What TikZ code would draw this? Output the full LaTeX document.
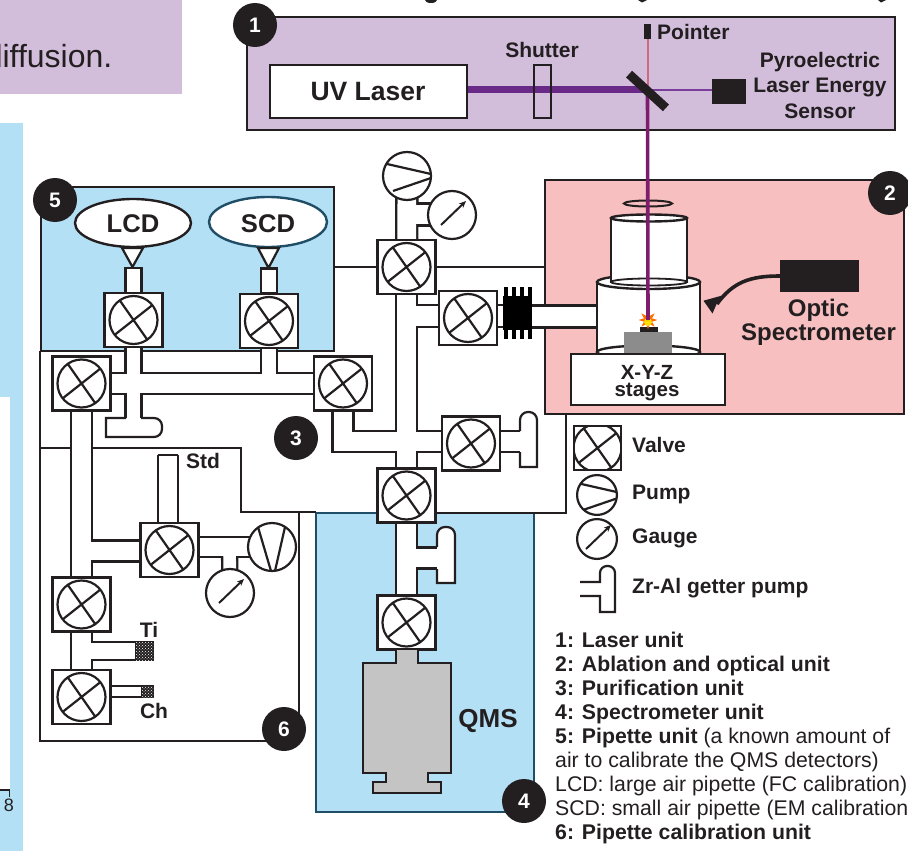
\documentclass[tikz,border=0pt]{standalone}
\usepackage{fontspec}
\setmainfont{Liberation Sans}
\usetikzlibrary{arrows.meta,patterns,shapes.geometric}

\definecolor{inkc}{HTML}{231F20}
\definecolor{laserbox}{HTML}{D2BEDB}
\definecolor{ablationbox}{HTML}{F7BFC0}
\definecolor{skybox}{HTML}{B3E0F5}
\definecolor{tealc}{HTML}{1F4E66}
\definecolor{uvbeam}{HTML}{682A86}
\definecolor{downbeam}{HTML}{7E1C6E}
\definecolor{pointerbeam}{HTML}{D0687F}
\definecolor{sensorbeam}{HTML}{7A3D9A}

\pgfdeclarelayer{boxes}
\pgfdeclarelayer{pipes}
\pgfsetlayers{boxes,pipes,main}

\tikzset{
  boxline/.style={draw=inkc, line width=2.3pt},
  lab/.style={font=\bfseries\fontsize{#1}{#1}\selectfont, text=inkc, inner sep=0pt, anchor=base},
  lab/.default=21,
  keytext/.style={font=\fontsize{21.25}{24}\selectfont, text=inkc, inner sep=0pt, anchor=base west},
  badge/.style={circle, fill=inkc, text=white, minimum size=44pt, inner sep=0pt, font=\bfseries\fontsize{21}{21}\selectfont},
  valvebox/.style={draw=inkc, line width=2.2pt, fill=white, minimum width=#1*58pt, minimum height=#1*54pt, inner sep=0pt,
    path picture={\draw[inkc, line width=2.2pt, shift={(path picture bounding box.center)}, scale=#1]
      (0,0) circle (24pt) (-14,-20) -- (14,20) (-19,15) -- (19,-15);}},
  valvebox/.default=1,
  pumpsym/.style={circle, draw=inkc, line width=2.2pt, fill=white, minimum size=#1*48pt, inner sep=0pt,
    path picture={\draw[inkc, line width=2.2pt, shift={(path picture bounding box.center)}, scale=#1]
      (-20,-12) -- (24,-2) (-14,15) -- (24,2);}},
  pumpsym/.default=1,
  pumpdown/.style={circle, draw=inkc, line width=2.2pt, fill=white, minimum size=48pt, inner sep=0pt,
    path picture={\draw[inkc, line width=2.2pt, shift={(path picture bounding box.center)}]
      (-14,-20) -- (-1,24) (13,-20) -- (3,24);}},
  gaugesym/.style={circle, draw=inkc, line width=2.2pt, fill=white, minimum size=#1*48pt, inner sep=0pt,
    path picture={\draw[inkc, line width=2pt, -{Stealth[length=7pt,width=6pt]}, shift={(path picture bounding box.center)}, scale=#1]
      (-11,10) -- (14,-14);}},
  gaugesym/.default=1,
  pipe/.style={draw=\pipecol, line width=(#1+\pipeadd)*1pt, line cap=butt, line join=miter},
  getterline/.style={draw=inkc, line width=2.2pt, fill=white},
  chamberline/.style={draw=inkc, line width=2.4pt, fill=white},
  trapsym/.style={draw=inkc, line width=1.5pt, fill=inkc, inner sep=0pt,
    postaction={pattern=crosshatch dots, pattern color=white}},
}

\begin{document}
\begin{tikzpicture}[x=1pt,y=-1pt]
\useasboundingbox (0,0) rectangle (908,851);

\begin{pgfonlayer}{boxes}
% neighbouring page
\fill[laserbox] (0,0) rectangle (182,94);
\fill[skybox] (0,123) rectangle (23,851);
\fill[white] (0,397) rectangle (10,790);
% unit boxes
\draw[boxline, fill=laserbox] (247,17) rectangle (895,130);
\draw[boxline, fill=ablationbox] (545,180) rectangle (904,414);
\draw[boxline, fill=skybox] (41,187) rectangle (334,351);
\draw[boxline, draw=tealc, fill=skybox] (316,513) rectangle (534,812);
\draw[boxline] (40,351) -- (40,741) -- (299,741) -- (299,512);
\draw[boxline] (40,448) -- (241,448) -- (241,512) -- (316,512);
\draw[boxline] (436,513) -- (566,513) -- (566,414);
\draw[boxline] (334,267) -- (545,267);
\draw[line width=1.8pt, inkc] (0,790) -- (9.5,790) -- (9.5,797);
\end{pgfonlayer}

\node[font=\fontsize{32}{32}\selectfont, text=inkc, inner sep=0pt, anchor=base east] (pagetext) at (112.5,67) {diffusion.};
\node[font=\fontsize{18}{18}\selectfont, text=inkc, inner sep=0pt] (pagenum) at (9,805) {8};
% cut heading
\fill[inkc] (431,0) ellipse (6pt and 3pt);
\fill[inkc] (638,0) -- (647,0) -- (642,2.5) -- cycle;
\fill[inkc] (878,0) -- (886,0) -- (881,2.5) -- cycle;

% laser unit
\node[draw=inkc, line width=2.4pt, fill=white, minimum width=197pt, minimum height=53pt, inner sep=0pt] (laser) at (368.5,91.5) {};
\node[lab=26.5] (lasertext) at (368,100) {UV Laser};
\coordinate (mirrorc) at (647.5,90);
\node[fill=inkc, minimum width=7pt, minimum height=15pt, inner sep=0pt] (pointer) at (647.5,31.5) {};
\node[fill=inkc, minimum width=34pt, minimum height=25pt, inner sep=0pt] (sensor) at (729,91.5) {};
\node[lab] (shuttertext) at (542,58) {Shutter};
\node[lab, anchor=base west] (pointertext) at (657,40) {Pointer};
\node[lab] (sensortext) at (820,67) {Pyroelectric};
\node[lab] (sensortextb) at (820,92.5) {Laser Energy};
\node[lab] (sensortextc) at (820,118) {Sensor};
\draw[line width=7pt, uvbeam] (mirrorc -| laser.east) -- (mirrorc);
\draw[line width=2pt, pointerbeam] (pointer.south) -- (mirrorc);
\draw[line width=2.2pt, sensorbeam] (mirrorc) -- (mirrorc -| sensor.west);
\node[draw=inkc, line width=2.6pt, minimum width=17pt, minimum height=53pt, inner sep=0pt] (shutter) at (542.5,91.5) {};

% ablation and optical unit
\draw[line width=2pt, inkc] (648,203.5) ellipse (24pt and 3pt);
\draw[chamberline] (597,282) rectangle (700,353);
\draw[line width=2.4pt, inkc, fill=white] (648.5,352) ellipse (51.5pt and 6.5pt);
\draw[chamberline] (648.5,282) ellipse (51.5pt and 7pt);
\draw[chamberline] (611,218) -- (611,282) -- (687,282) -- (687,218) -- cycle;
\draw[line width=1.8pt, inkc, fill=white] (649,282) ellipse (38pt and 3.5pt);
\draw[chamberline] (649,218) ellipse (38pt and 3.5pt);
\fill[black!45] (624,331.5) rectangle (672,353);
\fill[inkc] (639.5,327) rectangle (657.5,331.5);
\node[star, star points=8, star point ratio=2.2, fill=orange!85!red, minimum size=19pt, inner sep=0pt] (spark) at (648,320) {};
\node[circle, fill=yellow!80!orange, minimum size=8pt, inner sep=0pt] (sparkcore) at (648,322) {};
\draw[line width=3.6pt, downbeam] (mirrorc) -- (spark.center);
\node[fill=inkc, minimum width=50pt, minimum height=9pt, inner sep=0pt, rotate=-42.5] (mirror) at (647.5,91) {};
\node[draw=inkc, line width=2.6pt, fill=white, minimum width=154pt, minimum height=51pt, inner sep=0pt] (stage) at (648,379.5) {};
\node[lab=20.5] (stagetext) at (647,379) {X-Y-Z};
\node[lab=20.5] (stagetextb) at (647,396) {stages};
\node[fill=inkc, minimum width=79pt, minimum height=32pt, inner sep=0pt] (spectro) at (819.5,276) {};
\draw[line width=3.6pt, inkc] (spectro.west) .. controls (750,276) and (733,282) .. (717,304);
\fill[inkc] (703.5,300.7) -- (724,295) -- (717,303) -- (712.5,313.5) -- cycle;
\node[lab=24] (spectrotext) at (818.5,316) {Optic};
\node[lab=24] (spectrotextb) at (818.5,340) {Spectrometer};

% pipette unit
\node[ellipse, draw=inkc, line width=2.4pt, fill=white, minimum width=116pt, minimum height=48pt, inner sep=0pt] (lcd) at (133,223) {};
\node[ellipse, draw=tealc, line width=2.4pt, fill=white, minimum width=118pt, minimum height=50pt, inner sep=0pt] (scd) at (268,222) {};
\node[lab=25.6] (lcdtext) at (133,232) {LCD};
\node[lab=25.6] (scdtext) at (268,232) {SCD};
\draw[getterline] (122,248) -- (143,248) -- (132.5,267) -- cycle;
\draw[getterline] (258,248) -- (279,248) -- (268.5,268) -- cycle;
\node[draw=inkc, line width=2.2pt, fill=white, minimum width=16pt, minimum height=25pt, inner sep=0pt] (lcdneck) at (133.5,280.5) {};
\node[draw=inkc, line width=2.2pt, fill=white, minimum width=16pt, minimum height=25pt, inner sep=0pt] (scdneck) at (269,281) {};
\node[valvebox] (vlcd) at (133.5,320) {};
\node[valvebox] (vscd) at (269,321) {};

% purification unit
\node[valvebox] (vleft) at (81.5,383.5) {};
\node[valvebox] (vright) at (343,383.5) {};
\node[valvebox] (vtop) at (406.5,267) {};
\node[valvebox] (vlens) at (468,318) {};
\node[valvebox] (vgetter) at (471,443.5) {};
\node[valvebox] (vout) at (406.5,495.5) {};
\node[pumpsym] (pumpa) at (407,176) {};
\node[gaugesym] (gaugea) at (452,215) {};
\fill[black] (503,296) rectangle (532,330);
\foreach \tx in {504,512,520,528} {
  \fill[black] (\tx,287) rectangle (\tx+4,339);
}
\coordinate (bellows) at (517.5,316.5);

% spectrometer unit
\node[valvebox] (vqms) at (406.5,622.5) {};
\draw[line width=2.4pt, inkc, fill=black!23] (396,650) -- (396,663) -- (363,663) -- (363,773) -- (386,773) -- (386,782) -- (373,782) -- (373,793) -- (441,793) -- (441,782) -- (428,782) -- (428,773) -- (451,773) -- (451,663) -- (418,663) -- (418,650);
\node[lab=26] (qmstext) at (488,727) {QMS};

% calibration unit
\node[valvebox] (vstd) at (169.5,550) {};
\node[valvebox] (vti) at (81.5,604.5) {};
\node[valvebox] (vch) at (81.5,697) {};
\node[pumpdown] (pumpb) at (272,547) {};
\node[gaugesym] (gaugeb) at (230,593) {};
\node[trapsym, minimum width=17pt, minimum height=18pt] (trapti) at (144.5,651) {};
\node[trapsym, minimum width=11pt, minimum height=11pt] (trapch) at (147.5,691.5) {};
\node[lab] (stdtext) at (203,468) {Std};
\node[lab] (titext) at (149,637) {Ti};
\node[lab] (chtext) at (154,718) {Ch};

% pipes, dark pass then white pass
\coordinate (jlcd) at (133.5,418);
\coordinate (jmid) at (406.5,441.5);
\coordinate (jbend) at (343,441.5);
\coordinate (jlens) at (406.5,316);
\coordinate (jgauge) at (406.5,214.5);
\coordinate (jqms) at (406.5,558);
\coordinate (jstd) at (81.5,551);
\coordinate (jti) at (81.5,651);
\coordinate (jch) at (81.5,691.5);
\coordinate (stdtop) at (168,455);
\coordinate (stdfoot) at (168,530);
\coordinate (jrightb) at (170,547);
\coordinate (jgaugeb) at (229.5,547);
\coordinate (gettera) at (525,441.5);
\coordinate (getterb) at (442,558);
\begin{pgfonlayer}{pipes}
\foreach \pipecol/\pipeadd in {inkc/2.3,white/-2.3} {
  \draw[pipe=21] (vleft.center) -- (vright.center);
  \draw[pipe=16] (vlcd.center) -- (jlcd);
  \draw[pipe=16] (vscd.center) -- (vscd |- vright);
  \draw[pipe=21] (vright.center) -- (jbend) -- (jmid);
  \draw[pipe=21] (vtop.center) -- (vout.center);
  \draw[pipe=21] (vtop.center) -- (pumpa.center);
  \draw[pipe=22] (jgauge) -- (jgauge -| gaugea);
  \draw[pipe=22] (jlens) -- (bellows |- jlens);
  \draw[pipe=22] (bellows) -- (600,316.5);
  \draw[pipe=21] (jmid) -- (gettera);
  \draw[pipe=21] (vout.center) -- (vqms.center);
  \draw[pipe=21] (jqms) -- (getterb);
  \draw[pipe=21] (vleft.center) -- (vti.center);
  \draw[pipe=21] (vti.center) -- (vch.center);
  \draw[pipe=21] (jstd) -- (jstd -| vstd);
  \draw[pipe=18] (jti) -- (trapti.center);
  \draw[pipe=11] (jch) -- (trapch.center);
  \draw[pipe=20] (stdtop) -- (stdfoot);
  \draw[pipe=20] (jrightb) -- (pumpb.center);
  \draw[pipe=15] (jgaugeb) -- (gaugeb.center);
}
\draw[getterline] (126,418) -- (106,418) -- (106,437) [rounded corners=8pt] -- (162,437) -- (162,418) [sharp corners] -- (141,418);
\draw[getterline] (158,455) -- (178,455);
\draw[getterline] (520,431) [rounded corners=8pt] -- (520,412) -- (537,412) [sharp corners] -- (537,467) -- (520,467) -- (520,452);
\draw[getterline] (437,547) [rounded corners=8pt] -- (437,527) -- (455,527) [sharp corners] -- (455,583) -- (437,583) -- (437,569);
\end{pgfonlayer}

% legend
\node[valvebox=0.81] (keyvalve) at (597.5,448) {};
\node[pumpsym=0.83] (keypump) at (597,495) {};
\node[gaugesym=0.83] (keygauge) at (597,539) {};
\draw[getterline, fill=none] (580,582) -- (600,582) [rounded corners=7pt] -- (600,566) -- (615,566) [sharp corners] -- (615,612) -- (600,612) -- (600,596) -- (580,596);
\node[lab, anchor=base west] (keyvalvetext) at (632,452) {Valve};
\node[lab, anchor=base west] (keypumptext) at (632,499) {Pump};
\node[lab, anchor=base west] (keygaugetext) at (632,543) {Gauge};
\node[lab, anchor=base west] (keygettertext) at (632,593) {Zr-Al getter pump};

\node[keytext] (keya) at (555,647) {\bfseries 1: Laser unit};
\node[keytext] (keyb) at (555,671) {\bfseries 2: Ablation and optical unit};
\node[keytext] (keyc) at (555,695) {\bfseries 3: Purification unit};
\node[keytext] (keyd) at (555,719) {\bfseries 4: Spectrometer unit};
\node[keytext] (keye) at (555,743) {\textbf{5: Pipette unit} (a known amount of};
\node[keytext] (keyf) at (555,767) {air to calibrate the QMS detectors)};
\node[keytext] (keyg) at (555,791) {LCD: large air pipette (FC calibration)};
\node[keytext] (keyh) at (555,815) {SCD: small air pipette (EM calibration};
\node[keytext] (keyi) at (555,839) {\bfseries 6: Pipette calibration unit};

% unit numbers
\node[badge] (unita) at (255,25) {1};
\node[badge] (unitb) at (890,193) {2};
\node[badge] (unitc) at (296,438) {3};
\node[badge] (unitd) at (524,801) {4};
\node[badge] (unite) at (55,200) {5};
\node[badge] (unitf) at (284,729) {6};
\end{tikzpicture}
\end{document}
